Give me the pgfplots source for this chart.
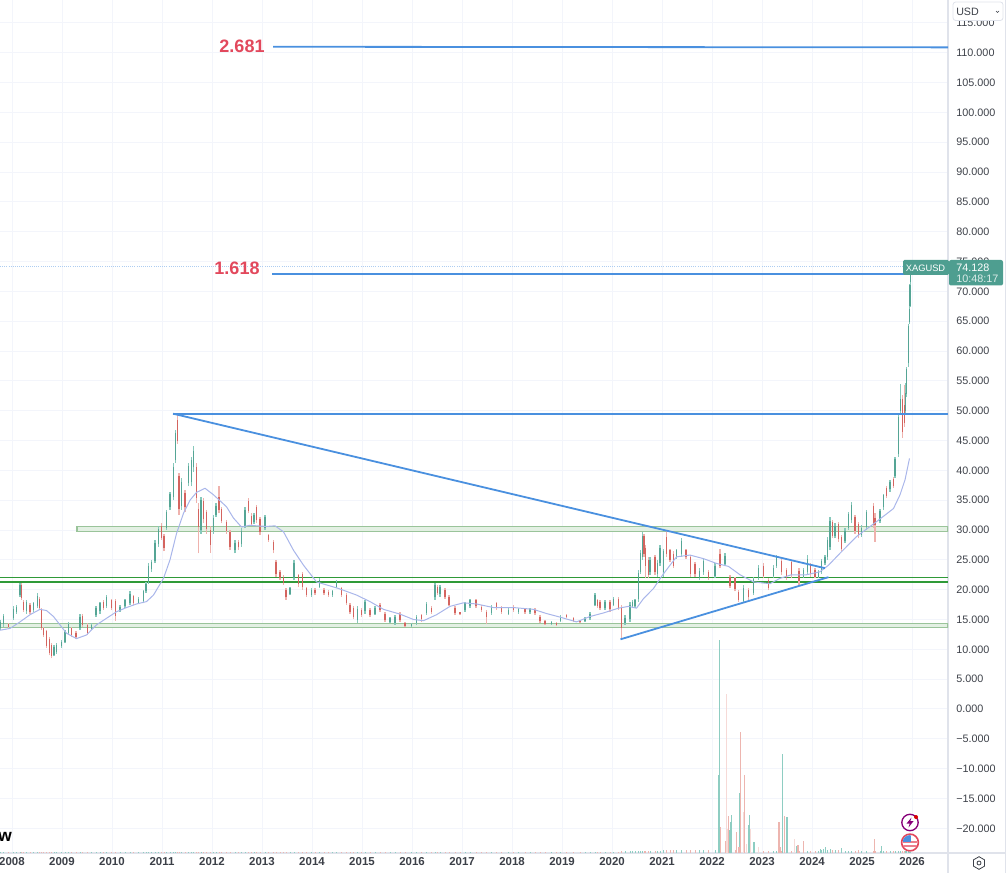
\documentclass[border=0pt]{standalone}
\usepackage{fontspec}
\setmainfont{Liberation Sans}
\usepackage{pgfplots}
\usepackage{pgfplotstable}
\pgfplotsset{compat=1.18}
\usetikzlibrary{shapes.geometric}

\definecolor{upbody}{HTML}{55A595}
\definecolor{dnbody}{HTML}{D4645F}
\definecolor{upwick}{HTML}{86C8BB}
\definecolor{dnwick}{HTML}{EFB2AD}
\definecolor{volup}{HTML}{8ECDC2}
\definecolor{voldn}{HTML}{EDB5AF}
\definecolor{trend}{HTML}{4A90DF}
\definecolor{mavg}{HTML}{A9B6EA}
\definecolor{bandline}{HTML}{9AC49A}
\definecolor{bandfill}{HTML}{E3F0E3}
\definecolor{supgreen}{HTML}{2F9A38}
\definecolor{fibred}{HTML}{E2485C}
\definecolor{badge}{HTML}{4E9E90}
\definecolor{gridc}{HTML}{F3F5FB}
\definecolor{framec}{HTML}{E0E3EB}
\definecolor{ticktext}{HTML}{3C4048}

% x o h l c vol (vol is the height of the small volume bars)
\pgfplotstableread{
x o h l c v
2007.76 13.5 14.9 13.2 14.6 1.5
2007.83 14.2 16.0 13.8 15.6 1.5
2007.93 14.2 14.4 13.5 13.8 1.5
2008.03 15.2 17.2 14.9 16.8 1.5
2008.09 16.3 17.4 16.0 17.1 1.5
2008.16 19.1 21.2 18.8 20.8 1.5
2008.19 20.8 21.1 18.3 18.6 1.5
2008.23 18.0 18.3 16.3 16.6 1.5
2008.29 16.4 18.3 16.0 17.9 1.5
2008.36 17.4 17.7 16.0 16.3 1.5
2008.43 16.6 18.0 16.3 17.7 1.5
2008.51 17.2 19.4 16.9 19.0 1.5
2008.55 18.5 18.8 16.7 17.0 1.5
2008.59 16.6 16.9 13.2 13.6 1.5
2008.63 13.6 13.8 12.1 12.4 1.5
2008.69 13.0 13.2 10.2 10.6 1.5
2008.75 11.8 12.1 9.0 9.4 1.5
2008.79 10.7 11.0 8.5 8.9 1.5
2008.84 9.0 10.7 8.8 10.4 1.5
2008.89 9.6 11.0 9.3 10.7 1.5
2008.99 10.5 11.6 10.2 11.3 1.5
2009.06 11.3 13.2 11.0 12.9 1.5
2009.13 12.8 14.6 12.4 14.2 1.5
2009.19 13.5 13.8 12.1 12.4 1.5
2009.28 12.8 13.0 11.7 12.0 1.5
2009.36 13.5 16.0 13.2 15.5 1.5
2009.41 15.6 16.0 13.8 14.1 1.5
2009.51 14.1 14.4 12.4 12.8 1.5
2009.59 13.4 14.4 13.2 14.1 1.5
2009.68 15.8 17.2 15.5 16.9 1.5
2009.76 16.4 18.0 16.0 17.7 1.5
2009.83 17.9 18.3 16.6 16.9 1.5
2009.89 17.3 19.1 16.9 18.8 1.5
2009.99 18.2 18.5 16.6 17.0 1.5
2010.07 18.1 18.5 14.8 15.6 1.5
2010.16 16.5 17.4 16.3 17.1 1.5
2010.26 17.2 18.5 16.9 18.2 1.5
2010.36 17.8 19.7 17.4 19.3 1.5
2010.43 18.9 19.1 17.4 17.7 1.5
2010.53 17.8 18.8 17.6 18.5 1.5
2010.63 18.1 20.0 17.7 19.7 1.5
2010.68 19.7 21.3 19.4 21.0 1.5
2010.73 21.3 24.4 21.0 24.0 1.5
2010.79 23.4 25.0 23.0 24.6 1.5
2010.86 24.8 28.3 24.4 27.9 1.5
2010.93 27.6 30.6 27.2 30.1 1.5
2010.99 30.7 31.1 28.3 28.7 1.5
2011.04 29.0 29.4 26.4 27.0 1.5
2011.09 30.4 33.4 30.0 33.0 1.5
2011.16 33.8 36.4 33.4 36.0 1.5
2011.23 35.6 41.2 35.0 40.6 1.5
2011.27 41.7 46.8 41.2 46.2 1.5
2011.31 48.5 49.3 44.5 45.0 1.5
2011.34 39.0 39.5 32.5 33.5 1.5
2011.39 34.0 38.7 33.4 38.0 1.5
2011.46 36.2 36.7 33.1 33.8 1.5
2011.53 37.8 41.2 37.3 40.7 1.5
2011.59 38.0 42.3 37.3 41.7 1.5
2011.63 40.5 44.0 39.8 43.2 1.5
2011.69 40.5 41.2 34.5 35.4 1.5
2011.73 33.5 34.5 26.1 30.5 1.5
2011.78 30.0 35.6 29.4 35.0 1.5
2011.83 34.8 35.3 31.1 31.8 1.5
2011.89 33.0 33.4 29.4 30.2 1.5
2011.97 30.0 30.6 26.2 27.5 1.5
2012.03 29.8 32.5 29.4 32.0 1.5
2012.08 32.5 34.5 32.2 34.1 1.5
2012.14 35.5 37.4 32.8 33.4 1.5
2012.19 33.5 33.9 31.1 31.5 1.5
2012.29 31.3 31.7 29.4 29.9 1.5
2012.36 29.6 30.0 26.7 27.2 1.5
2012.46 26.6 28.3 26.1 27.9 1.5
2012.53 28.0 28.3 26.7 27.1 1.5
2012.59 27.6 30.3 27.2 29.8 1.5
2012.66 30.7 33.9 30.3 33.4 1.5
2012.73 34.9 35.3 32.8 33.2 1.5
2012.79 32.4 32.8 30.6 31.0 1.5
2012.84 31.3 32.8 31.0 32.5 1.5
2012.89 33.8 34.2 31.1 31.6 1.5
2012.96 31.9 32.2 29.2 29.7 1.5
2013.06 30.4 32.5 30.0 32.1 1.5
2013.13 29.1 29.4 28.0 28.4 1.5
2013.23 28.0 28.3 26.1 26.6 1.5
2013.28 24.6 25.0 22.2 22.7 1.5
2013.36 23.0 23.3 21.6 22.0 1.5
2013.43 22.2 22.5 20.8 21.2 1.5
2013.48 20.0 20.2 18.3 18.7 1.5
2013.56 19.3 20.5 19.1 20.2 1.5
2013.64 22.0 25.0 21.6 24.5 1.5
2013.73 22.4 22.7 20.5 20.9 1.5
2013.81 22.6 23.0 20.0 20.5 1.5
2013.89 20.2 20.5 18.8 19.1 1.5
2013.99 19.1 20.2 18.8 19.9 1.5
2014.06 19.9 20.2 19.1 19.4 1.5
2014.15 20.5 21.9 20.2 21.6 1.5
2014.24 19.9 20.2 19.1 19.4 1.5
2014.33 19.6 19.9 18.8 19.1 1.5
2014.41 19.1 19.9 18.8 19.7 1.5
2014.49 20.5 21.6 20.2 21.3 1.5
2014.59 20.2 20.5 18.8 19.1 1.5
2014.69 19.1 19.4 17.4 17.8 1.5
2014.76 17.4 17.7 16.0 16.3 1.5
2014.83 16.9 17.2 15.0 15.4 1.5
2014.91 14.9 17.2 14.4 16.8 1.5
2014.99 16.6 16.9 15.5 15.8 1.5
2015.06 16.4 18.3 16.0 17.9 1.5
2015.16 16.6 16.9 15.5 15.8 1.5
2015.26 16.0 17.2 15.8 16.9 1.5
2015.36 17.4 17.7 16.3 16.6 1.5
2015.46 16.0 16.3 14.6 14.9 1.5
2015.56 14.6 15.5 14.4 15.2 1.5
2015.66 14.4 15.8 14.1 15.5 1.5
2015.76 16.0 16.3 14.6 14.9 1.5
2015.86 14.4 14.6 13.7 13.9 1.5
2015.99 13.9 14.4 13.7 14.2 1.5
2016.09 14.4 15.8 14.1 15.5 1.5
2016.19 15.7 16.0 14.6 15.0 1.5
2016.29 16.1 18.0 15.8 17.6 1.5
2016.39 16.9 17.2 16.0 16.3 1.5
2016.46 18.7 21.1 18.3 20.7 1.5
2016.51 20.5 20.8 19.1 19.5 1.5
2016.56 19.2 20.8 18.8 20.4 1.5
2016.66 19.9 20.2 18.5 18.8 1.5
2016.74 18.8 19.1 17.2 17.5 1.5
2016.86 16.9 17.2 15.8 16.1 1.5
2016.96 16.2 16.3 15.8 15.9 1.5
2017.06 16.6 18.0 16.3 17.7 1.5
2017.16 17.2 18.5 16.9 18.2 1.5
2017.28 18.2 18.5 16.9 17.2 1.5
2017.39 17.1 17.4 16.3 16.6 1.5
2017.49 16.3 16.6 14.2 15.4 1.5
2017.59 16.1 17.4 15.8 17.1 1.5
2017.69 17.7 18.0 16.6 16.9 1.5
2017.79 16.9 17.2 16.0 16.3 1.5
2017.93 16.0 16.9 15.8 16.6 1.5
2018.03 17.1 17.4 16.3 16.6 1.5
2018.13 16.2 16.9 16.0 16.7 1.5
2018.26 16.7 16.9 16.0 16.2 1.5
2018.36 16.2 17.0 16.0 16.8 1.5
2018.46 16.6 16.9 15.8 16.1 1.5
2018.56 15.5 15.8 14.4 14.7 1.5
2018.66 14.8 14.9 14.1 14.3 1.5
2018.79 14.3 14.8 14.1 14.6 1.5
2018.89 14.4 14.6 13.9 14.1 1.5
2018.97 14.8 15.8 14.6 15.5 1.5
2019.09 15.8 16.0 15.2 15.4 1.5
2019.23 15.3 15.5 14.6 14.8 1.5
2019.36 14.8 14.9 14.4 14.5 1.5
2019.46 14.8 15.5 14.6 15.3 1.5
2019.56 15.2 16.3 14.9 16.0 1.5
2019.66 17.5 19.5 17.2 19.1 1.5
2019.71 18.2 18.5 16.9 17.2 1.5
2019.76 18.0 18.3 16.6 17.0 1.5
2019.86 16.9 18.3 16.6 18.0 1.5
2019.96 18.0 18.3 16.3 16.7 1.5
2020.03 17.5 18.8 17.2 18.5 1.5
2020.13 18.5 18.8 16.6 17.0 1.5
2020.19 17.0 17.4 11.8 13.6 2
2020.26 14.4 15.7 14.1 15.3 2
2020.36 15.0 18.0 14.6 17.5 2
2020.41 17.2 18.3 16.9 17.9 2
2020.46 17.2 18.5 16.9 18.2 2
2020.53 18.4 23.3 18.0 22.8 2
2020.57 23.0 26.6 22.7 26.2 2
2020.61 25.5 29.7 25.0 29.0 2
2020.64 29.0 29.4 25.5 26.0 2
2020.67 27.0 27.5 21.9 24.0 2
2020.73 25.0 25.5 21.9 22.4 2
2020.76 23.0 25.5 22.5 25.0 2
2020.86 25.4 25.8 22.5 23.0 2
2020.91 22.6 25.0 22.2 24.4 2
2020.96 24.4 27.5 23.9 27.0 2
2021.03 23.0 26.9 22.2 26.4 3
2021.09 28.8 30.0 25.5 26.0 3
2021.16 26.6 26.9 24.7 25.0 3
2021.23 26.0 26.4 23.6 24.0 3
2021.29 25.5 26.9 25.2 26.6 3
2021.39 25.9 28.6 25.5 28.1 3
2021.48 26.6 26.9 25.2 25.5 3
2021.57 25.4 25.8 22.2 22.7 3
2021.66 24.3 24.7 22.2 22.7 3
2021.75 22.0 23.6 21.6 23.2 3
2021.83 22.9 25.2 22.5 24.8 3
2021.93 23.0 23.3 21.6 22.0 3
2022.06 22.3 24.4 21.9 24.0 3
2022.16 26.0 26.9 23.6 24.0 3
2022.26 24.3 26.1 23.9 25.7 3
2022.36 22.2 22.5 20.2 20.6 3
2022.46 21.9 22.2 19.7 20.1 3
2022.53 19.6 19.9 18.0 18.3 3
2022.63 18.1 20.8 17.7 20.3 3
2022.73 19.9 20.2 18.3 18.7 3
2022.83 19.5 22.2 19.1 21.8 3
2022.93 22.0 24.1 21.6 23.7 3
2023.03 24.0 24.4 21.9 22.3 2
2023.13 21.6 21.9 19.9 20.3 2
2023.23 22.3 24.1 21.9 23.7 2
2023.29 24.0 25.8 23.6 25.4 2
2023.39 24.8 25.2 22.5 22.9 2
2023.49 23.3 23.6 21.6 22.0 2
2023.59 24.6 25.0 21.9 22.4 2
2023.74 23.2 23.6 20.8 21.5 2
2023.83 22.2 23.6 21.9 23.3 2
2023.91 22.9 25.8 22.5 25.2 2
2023.97 24.1 24.4 22.2 22.6 2
2024.06 23.3 23.6 21.9 22.2 2
2024.13 22.2 23.3 21.9 23.0 2
2024.19 23.0 25.2 22.7 24.8 3
2024.26 24.4 25.8 24.1 25.5 3
2024.31 25.5 28.9 25.0 28.4 3
2024.36 27.2 32.2 26.6 31.5 3
2024.41 31.3 31.7 28.6 29.0 3
2024.46 29.0 31.1 28.6 30.7 3
2024.53 31.0 31.4 28.0 28.5 3
2024.59 28.8 29.2 26.4 26.9 3
2024.66 28.2 30.3 27.8 29.9 2
2024.73 30.4 33.1 30.0 32.7 2
2024.79 31.6 34.7 31.1 34.2 2
2024.86 32.1 32.5 29.4 29.9 2
2024.93 31.0 31.4 28.6 29.1 2
2024.99 29.2 30.8 28.9 30.4 2
2025.09 30.5 33.4 30.0 33.0 2
2025.23 34.0 34.5 30.3 30.9 2
2025.26 32.0 32.8 28.0 30.8 2
2025.36 31.5 33.6 31.1 33.2 2
2025.43 33.8 36.1 33.4 35.8 2
2025.49 37.0 37.3 35.3 35.7 2
2025.56 36.8 38.4 36.4 38.0 2
2025.63 38.6 38.9 37.0 37.4 2
2025.66 39.0 42.3 38.7 41.9 2
2025.73 42.8 49.5 42.3 49.0 2
2025.77 50.0 54.5 49.5 52.0 2
2025.81 52.0 52.6 45.4 46.5 2
2025.85 51.0 54.3 47.3 48.0 2
2025.87 50.0 54.6 49.5 53.0 2
2025.89 52.8 57.4 52.3 57.0 2
2025.93 58.0 64.6 57.4 64.2 2
2025.95 64.8 67.4 64.6 67.0 1
2025.96 67.6 71.3 67.4 71.0 1
2025.97 71.5 75.3 71.3 74.13 1
}\candles

\pgfplotsset{
  wick/.style={draw=none,mark=none,forget plot,
    error bars/.cd,y dir=plus,y explicit,error mark=none,
    error bar style={color=#1,line width=0.85pt},/pgfplots/.cd},
  body/.style={draw=none,mark=none,forget plot,
    error bars/.cd,y dir=plus,y explicit,error mark=none,
    error bar style={color=#1,line width=1.25pt},/pgfplots/.cd},
  isup/.style={restrict expr to domain={\thisrow{c}-\thisrow{o}}{0:1000}},
  isdn/.style={restrict expr to domain={\thisrow{c}-\thisrow{o}}{-1000:0}},
  band/.style={draw=bandline,fill=bandfill,line width=0.8pt,forget plot},
  tline/.style={trend,line width=1.35pt,forget plot},
}

\begin{document}
\begin{tikzpicture}[x=0.75pt,y=-0.75pt]
\useasboundingbox (0,0) rectangle (1007,873);

\begin{axis}[
    at={(0pt,-639.75pt)},anchor=south west,
    scale only axis,width=711pt,height=639.75pt,
    xmin=2007.76,xmax=2026.72,ymin=-24.14,ymax=118.84,
    axis x line*=bottom,axis y line*=right,
    axis line style={framec,line width=0.8pt},
    tick style={draw=none},
    xmajorgrids,ymajorgrids,
    grid style={gridc,line width=0.75pt},
    xtick={2008,2009,2010,2011,2012,2013,2014,2015,2016,2017,2018,2019,2020,2021,2022,2023,2024,2025,2026},
    xticklabels={2008,2009,2010,2011,2012,2013,2014,2015,2016,2017,2018,2019,2020,2021,2022,2023,2024,2025,2026},
    ytick={-20,-15,-10,-5,0,5,10,15,20,25,30,35,40,45,50,55,60,65,70,75,80,85,90,95,100,105,110,115},
    yticklabels={−20.000,−15.000,−10.000,−5.000,0.000,5.000,10.000,15.000,20.000,25.000,30.000,35.000,40.000,45.000,50.000,55.000,60.000,65.000,70.000,75.000,80.000,85.000,90.000,95.000,100.000,105.000,110.000,115.000},
    x tick label style={font=\fontsize{8.6}{10}\selectfont\bfseries,text=ticktext,inner sep=0pt,yshift=-3.5pt},
    y tick label style={font=\fontsize{8.1}{10}\selectfont,text=ticktext,anchor=west,inner sep=0pt,xshift=6pt},
]
% support and resistance bands
\addplot[band] coordinates {(2009.30,30.6) (2026.72,30.6) (2026.72,29.7) (2009.30,29.7)} -- cycle;
\addplot[band] coordinates {(2007.76,14.36) (2026.72,14.36) (2026.72,13.63) (2007.76,13.63)} -- cycle;
\addplot[color=supgreen,line width=0.9pt,forget plot] coordinates {(2007.76,22.0) (2026.72,22.0)};
\addplot[color=supgreen,line width=0.9pt,forget plot] coordinates {(2007.76,21.3) (2026.72,21.3)};

% last price guide
\addplot[densely dotted,color=trend!45,line width=0.6pt,forget plot] coordinates {(2007.76,74.128) (2025.82,74.128)};

% candles
\addplot[isup,wick=upwick] table[x=x,y=l,y error plus expr=\thisrow{h}-\thisrow{l}] {\candles};
\addplot[isdn,wick=dnwick] table[x=x,y=l,y error plus expr=\thisrow{h}-\thisrow{l}] {\candles};
\addplot[isup,body=upbody] table[x=x,y=o,y error plus expr=\thisrow{c}-\thisrow{o}] {\candles};
\addplot[isdn,body=dnbody] table[x=x,y=c,y error plus expr=\thisrow{o}-\thisrow{c}] {\candles};

% moving average
\addplot[mavg,line width=0.75pt,line join=round,forget plot] coordinates {
(2007.76,13.2) (2007.96,13.5) (2008.16,14.6) (2008.36,15.8) (2008.56,16.7) (2008.69,16.5)
(2008.83,15.5) (2008.96,14.1) (2009.09,12.7) (2009.29,11.8) (2009.49,12.4) (2009.69,14.1)
(2009.89,15.2) (2010.09,16.3) (2010.29,17.0) (2010.49,17.6) (2010.69,18.0) (2010.83,19.1)
(2011.03,21.9) (2011.16,25.0) (2011.29,29.4) (2011.43,32.8) (2011.56,35.0) (2011.69,36.3)
(2011.86,37.0) (2012.03,35.9) (2012.29,33.9) (2012.43,32.0) (2012.59,30.5) (2012.76,30.8)
(2012.89,30.7) (2013.09,30.6) (2013.26,30.7) (2013.43,29.7) (2013.63,26.6) (2013.83,24.1)
(2014.09,21.3) (2014.29,20.8) (2014.53,20.2) (2014.89,19.1) (2015.16,18.0) (2015.43,16.7)
(2015.76,15.9) (2016.03,15.0) (2016.23,14.8) (2016.49,15.8) (2016.76,17.2) (2017.03,17.8)
(2017.29,17.6) (2017.63,17.0) (2018.03,17.0) (2018.43,16.7) (2018.69,16.0) (2018.96,15.4)
(2019.29,14.6) (2019.56,15.5) (2019.83,16.1) (2020.13,16.9) (2020.33,17.2) (2020.49,16.9)
(2020.63,18.5) (2020.83,20.2) (2020.99,22.2) (2021.16,24.1) (2021.29,25.5) (2021.56,25.8)
(2021.83,25.2) (2022.09,24.4) (2022.33,23.9) (2022.56,22.5) (2022.83,21.3) (2023.16,21.0)
(2023.36,21.9) (2023.59,22.5) (2023.89,22.5) (2024.16,23.0) (2024.33,24.1) (2024.56,26.1)
(2024.89,28.9) (2025.29,31.4) (2025.63,33.6) (2025.76,35.9) (2025.86,38.4) (2025.95,42.0)};

% drawn trend lines and fib levels
\addplot[tline] coordinates {(2011.22,49.5) (2026.72,49.5)};
\addplot[tline] coordinates {(2011.22,49.5) (2024.26,23.6)};
\addplot[tline] coordinates {(2020.17,11.68) (2024.33,22.1)};
\addplot[tline] coordinates {(2013.22,111.0) (2026.72,110.9)};
\addplot[tline] coordinates {(2013.20,72.9) (2026.72,72.9)};
\end{axis}

% volume pane, heights in arbitrary units over the same span
\begin{axis}[
    at={(0pt,-639.75pt)},anchor=south west,
    scale only axis,width=711pt,height=639.75pt,
    xmin=2007.76,xmax=2026.72,ymin=0,ymax=853,
    hide axis,
]
\addplot[ycomb,volup,line width=0.6pt,isup,forget plot] table[x=x,y=v] {\candles};
\addplot[ycomb,voldn,line width=0.6pt,isdn,forget plot] table[x=x,y=v] {\candles};
\addplot[ycomb,volup,line width=0.8pt,forget plot] coordinates {
(2022.14,78) (2022.15,213) (2022.35,9) (2022.36,23) (2022.38,31) (2022.39,38) (2022.56,60)
(2022.73,28) (2022.75,38) (2022.84,11) (2023.41,99) (2023.50,36) (2023.69,7)
(2024.17,4.5) (2024.23,4.5) (2024.27,6) (2024.37,4.5) (2024.59,5.5) (2025.39,7)};
\addplot[ycomb,voldn,line width=0.8pt,forget plot] coordinates {
(2022.17,26) (2022.27,12) (2022.33,37) (2022.49,21) (2022.54,6) (2022.57,121) (2022.65,78)
(2023.34,31) (2023.36,6) (2023.45,37) (2023.72,8) (2023.83,12) (2024.93,3.5) (2025.25,14)};
\addplot[ycomb,voldn!50,line width=0.8pt,forget plot] coordinates {
(2022.29,159) (2022.31,24) (2022.63,41) (2022.69,9) (2022.77,24) (2022.93,6) (2023.65,14)};
\end{axis}

% fib labels
\node[font=\fontsize{13.5}{15}\selectfont\bfseries,text=fibred] at (242,46) {2.681};
\node[font=\fontsize{13.5}{15}\selectfont\bfseries,text=fibred] at (237,268) {1.618};

% symbol and price badges
\fill[badge,rounded corners=1pt] (903,260) rectangle (949,275);
\node[font=\fontsize{7}{9}\selectfont,text=white,inner sep=0pt] at (925.5,267.8) {XAGUSD};
\fill[badge,rounded corners=1.5pt] (949,260) rectangle (1003,285.5);
\node[font=\fontsize{8.1}{10}\selectfont,text=white,anchor=west,inner sep=0pt] at (956,268) {74.128};
\node[font=\fontsize{8.1}{10}\selectfont,text=white!80!badge,anchor=west,inner sep=0pt] at (956,279) {10:48:17};

% currency button
\filldraw[fill=white,draw=framec,line width=0.6pt,rounded corners=2pt] (953,2) rectangle (1003,20.5);
\node[font=\fontsize{8}{9}\selectfont,text=ticktext,anchor=west,inner sep=0pt] at (956,11.5) {USD};
\draw[ticktext,line width=0.5pt] (996,11) -- (997.5,12.5) -- (999,11);

% right hand edge
\draw[framec,line width=0.8pt] (948,853) -- (948,873);
\draw[framec,line width=0.8pt] (948,853) -- (1005,853);
\draw[framec,line width=0.8pt] (1005.5,0) -- (1005.5,873);

% logo remainder
\node[font=\fontsize{13}{15}\selectfont\bfseries,text=black,inner sep=0pt] at (5,837) {w};

% settings button
\node[draw=ticktext,regular polygon,regular polygon sides=6,shape border rotate=30,minimum size=9.5pt,inner sep=0pt,line width=0.6pt] at (979,863) {};
\draw[ticktext,line width=0.6pt] (979,863) circle (2);

% event icons
\draw[draw=purple!70!blue,line width=1pt,fill=white] (910,822.5) circle (8.2);
\fill[purple!70!blue] (911.5,817.5) -- (906.5,823.5) -- (909.7,823.5) -- (908.5,827.5) -- (913.5,821.2) -- (910.3,821.2) -- cycle;
\fill[red!85!black] (916,817) circle (2);
\draw[draw=fibred,line width=1.2pt,fill=white] (910,842.5) circle (8.4);
\begin{scope}
\clip (910,842.5) circle (7.4);
\fill[fibred!70] (902,840.5) rectangle (918,843);
\fill[fibred!70] (902,845) rectangle (918,847);
\fill[trend] (903,835) rectangle (911,842);
\end{scope}
\end{tikzpicture}
\end{document}
